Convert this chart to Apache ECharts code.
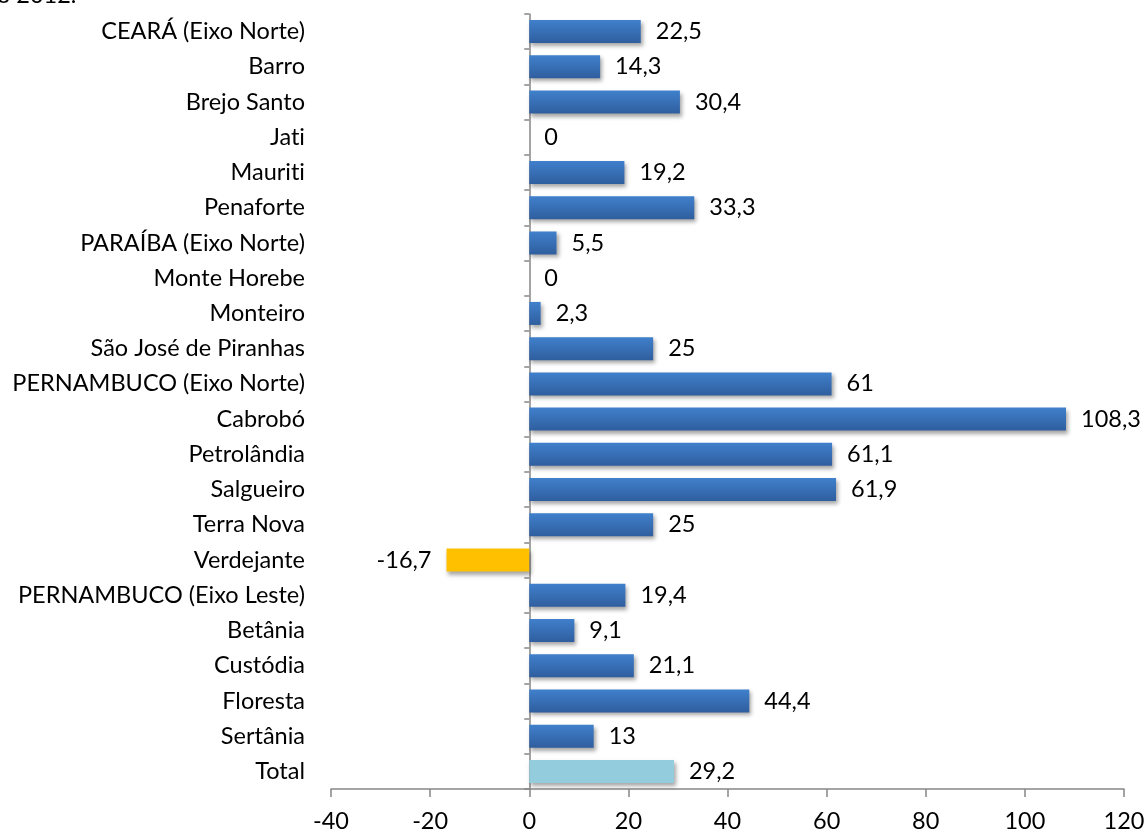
<!DOCTYPE html>
<html><head><meta charset="utf-8">
<script src="https://cdn.jsdelivr.net/npm/echarts@6/dist/echarts.min.js"></script>
<style>html,body{margin:0;padding:0;background:#fff}#c{width:1145px;height:832px}</style>
</head><body><div id="c"></div>
<script>
const categories = ["CEARÁ (Eixo Norte)","Barro","Brejo Santo","Jati","Mauriti","Penaforte","PARAÍBA (Eixo Norte)","Monte Horebe","Monteiro","São José de Piranhas","PERNAMBUCO (Eixo Norte)","Cabrobó","Petrolândia","Salgueiro","Terra Nova","Verdejante","PERNAMBUCO (Eixo Leste)","Betânia","Custódia","Floresta","Sertânia","Total"];
const values = [22.5,14.3,30.4,0,19.2,33.3,5.5,0,2.3,25,61,108.3,61.1,61.9,25,-16.7,19.4,9.1,21.1,44.4,13,29.2];
const xTicks = {min:-40, max:120, interval:20};
const titleFragment = "o 2012.";

const FONT = 'Lato';
const FS = 23.5;
const noLig = s => String(s).replace(/t(?=i)/g, 't\u200C').replace(/f(?=[il])/g, 'f\u200C');
const blueGrad = new echarts.graphic.LinearGradient(0,0,0,1,[{offset:0,color:'#4080cc'},{offset:1,color:'#2f5e9e'}]);
const data = values.map((v,i)=>{
  const item = {value:v};
  if (categories[i]==='Total') item.itemStyle = {color:'#93cddd'};
  else if (v<0) item.itemStyle = {color:'#ffc000'};
  else item.itemStyle = {color:blueGrad};
  if (v<0) item.label = {position:'left'};
  return item;
});
const chart = echarts.init(document.getElementById('c'));
chart.setOption({
  animation:false,
  textStyle:{fontFamily:FONT},
  graphic:[{type:'text',left:-3,top:-17,style:{text:titleFragment,font:FS+'px '+FONT,fill:'#000'}}],
  grid:{left:331,right:21,top:14,bottom:43,containLabel:false,outerBoundsMode:'none'},
  xAxis:{type:'value',min:xTicks.min,max:xTicks.max,interval:xTicks.interval,
    splitLine:{show:false},
    axisLine:{show:true,onZero:false,lineStyle:{color:'#868686',width:1.5}},
    axisTick:{show:true,length:8,lineStyle:{color:'#868686',width:1.5}},
    axisLabel:{color:'#000',fontSize:FS,fontFamily:FONT,margin:20}},
  yAxis:{type:'category',data:categories,inverse:true,
    axisLine:{show:true,onZero:true,lineStyle:{color:'#868686',width:1.5}},
    axisTick:{show:true,length:5,lineStyle:{color:'#868686',width:1.5}},
    axisLabel:{color:'#000',fontSize:FS,fontFamily:FONT,margin:26,formatter:v=>noLig(v)}},
  series:[{type:'bar',data:data,barWidth:23,
    itemStyle:{shadowBlur:4,shadowOffsetX:2,shadowOffsetY:3,shadowColor:'rgba(0,0,0,0.35)'},
    label:{show:true,position:'right',distance:15,color:'#000',fontSize:FS,fontFamily:FONT,
      formatter:p=>String(p.value).replace('.',',')}}]
});
</script></body></html>
